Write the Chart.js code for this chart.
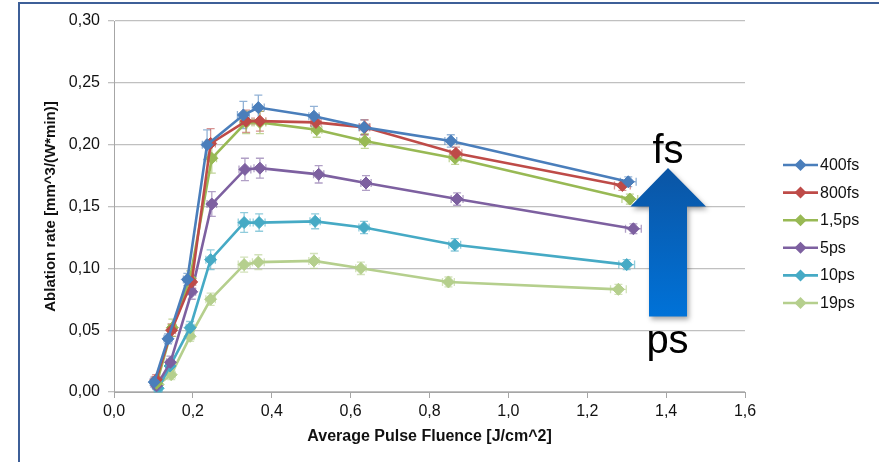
<!DOCTYPE html>
<html>
<head>
<meta charset="utf-8">
<script src="https://cdn.jsdelivr.net/npm/chart.js@4/dist/chart.umd.min.js"></script>
<style>
  html, body { margin: 0; padding: 0; background: #fff; overflow: hidden; }
  #wrap { position: relative; width: 879px; height: 462px; }
  #frame { position: absolute; left: 18px; top: 2px; width: 900px; height: 500px;
           border-left: 2px solid #3d5f98; border-top: 2px solid #3d5f98; }
  canvas { position: absolute; left: 0; top: 0; }
</style>
</head>
<body>
<div id="wrap">
  <div id="frame"></div>
  <canvas id="ablationChart" width="879" height="462"></canvas>
</div>
<script>
const seriesNames = ["400fs", "800fs", "1,5ps", "5ps", "10ps", "19ps"]
const seriesColors = ["#4a7ebb", "#be4b48", "#98b954", "#7d60a0", "#46aac5", "#b5cf8d"]

// fluence [J/cm^2] per series
const fluence400fs = [0.102, 0.137, 0.186, 0.236, 0.328, 0.366, 0.507, 0.634, 0.854, 1.304]
const fluence800fs = [0.107, 0.146, 0.197, 0.245, 0.335, 0.370, 0.512, 0.636, 0.867, 1.289]
const fluence1_5ps = [0.108, 0.148, 0.193, 0.248, 0.335, 0.370, 0.514, 0.636, 0.865, 1.308]
const fluence5ps = [0.108, 0.143, 0.197, 0.248, 0.332, 0.370, 0.519, 0.639, 0.870, 1.317]
const fluence10ps = [0.112, 0.142, 0.193, 0.245, 0.330, 0.368, 0.510, 0.634, 0.864, 1.300]
const fluence19ps = [0.112, 0.145, 0.193, 0.245, 0.330, 0.366, 0.507, 0.626, 0.848, 1.279]

// ablation rate [mm^3/(W*min)] per series
const rate400fs = [0.008, 0.043, 0.091, 0.200, 0.224, 0.230, 0.223, 0.214, 0.203, 0.170]
const rate800fs = [0.010, 0.050, 0.089, 0.201, 0.219, 0.219, 0.218, 0.214, 0.193, 0.167]
const rate1_5ps = [0.007, 0.052, 0.092, 0.189, 0.218, 0.218, 0.212, 0.203, 0.189, 0.156]
const rate5ps = [0.005, 0.024, 0.081, 0.152, 0.180, 0.181, 0.176, 0.169, 0.156, 0.132]
const rate10ps = [0.003, 0.021, 0.052, 0.107, 0.137, 0.137, 0.138, 0.133, 0.119, 0.103]
const rate19ps = [0.006, 0.014, 0.045, 0.075, 0.103, 0.105, 0.106, 0.100, 0.089, 0.083]

// error bars
const rateErr400fs = [0.004, 0.004, 0.005, 0.012, 0.011, 0.010, 0.008, 0.006, 0.005, 0.004]
const rateErr800fs = [0.004, 0.005, 0.005, 0.012, 0.009, 0.008, 0.006, 0.006, 0.005, 0.004]
const rateErr1_5ps = [0.004, 0.007, 0.006, 0.012, 0.009, 0.009, 0.006, 0.006, 0.005, 0.004]
const rateErr5ps = [0.003, 0.005, 0.006, 0.010, 0.009, 0.008, 0.007, 0.006, 0.005, 0.004]
const rateErr10ps = [0.003, 0.004, 0.005, 0.008, 0.008, 0.007, 0.006, 0.005, 0.005, 0.004]
const rateErr19ps = [0.003, 0.004, 0.004, 0.005, 0.006, 0.006, 0.006, 0.005, 0.004, 0.004]
const fluenceErr = [0.010, 0.010, 0.010, 0.012, 0.015, 0.015, 0.013, 0.013, 0.015, 0.020]

const fluences = [fluence400fs, fluence800fs, fluence1_5ps, fluence5ps, fluence10ps, fluence19ps]
const rates = [rate400fs, rate800fs, rate1_5ps, rate5ps, rate10ps, rate19ps]
const rateErrs = [rateErr400fs, rateErr800fs, rateErr1_5ps, rateErr5ps, rateErr10ps, rateErr19ps]

const comma = (v, d) => Number(v).toFixed(d).replace(".", ",")

const datasets = seriesNames.map((name, i) => ({
    label: name,
    data: fluences[i].map((x, j) => ({ x: x, y: rates[i][j] })),
    errY: rateErrs[i],
    showLine: true,
    borderColor: seriesColors[i],
    backgroundColor: seriesColors[i],
    borderWidth: 2.6,
    pointStyle: "rectRot",
    pointRadius: 6,
    pointHoverRadius: 6,
    pointBorderWidth: 1
}))

// error bars, drawn under the lines and markers
const errorBars = {
    id: "errorBars",
    beforeDatasetsDraw(chart) {
        const ctx = chart.ctx
        const xs = chart.scales.x, ys = chart.scales.y
        ctx.save()
        chart.data.datasets.forEach((ds) => {
            ctx.strokeStyle = ds.borderColor
            ctx.globalAlpha = 0.6
            ctx.lineWidth = 1.3
            ds.data.forEach((p, j) => {
                const px = xs.getPixelForValue(p.x)
                const py = ys.getPixelForValue(p.y)
                const top = ys.getPixelForValue(p.y + ds.errY[j])
                const bot = ys.getPixelForValue(p.y - ds.errY[j])
                const l = xs.getPixelForValue(p.x - fluenceErr[j])
                const r = xs.getPixelForValue(p.x + fluenceErr[j])
                ctx.beginPath()
                ctx.moveTo(px, top); ctx.lineTo(px, bot)
                ctx.moveTo(px - 4, top); ctx.lineTo(px + 4, top)
                ctx.moveTo(px - 4, bot); ctx.lineTo(px + 4, bot)
                ctx.moveTo(l, py); ctx.lineTo(r, py)
                ctx.moveTo(l, py - 4); ctx.lineTo(l, py + 4)
                ctx.moveTo(r, py - 4); ctx.lineTo(r, py + 4)
                ctx.stroke()
            })
        })
        ctx.restore()
    }
}

// legend with line + diamond, and the fs/ps arrow
const extras = {
    id: "extras",
    afterDraw(chart) {
        const ctx = chart.ctx
        ctx.save()
        chart.data.datasets.forEach((ds, i) => {
            const y = 165 + i * 27.6
            ctx.strokeStyle = ds.borderColor
            ctx.lineWidth = 2.6
            ctx.beginPath()
            ctx.moveTo(783, y); ctx.lineTo(818, y)
            ctx.stroke()
            ctx.fillStyle = ds.backgroundColor
            ctx.beginPath()
            ctx.moveTo(800.5, y - 6); ctx.lineTo(806.5, y); ctx.lineTo(800.5, y + 6); ctx.lineTo(794.5, y)
            ctx.closePath()
            ctx.fill()
            ctx.fillStyle = "#111"
            ctx.font = "16px 'Liberation Sans', Arial, sans-serif"
            ctx.textBaseline = "middle"
            ctx.textAlign = "left"
            ctx.fillText(ds.label, 820, y + 0.5)
        })

        // arrow
        const grad = ctx.createLinearGradient(0, 168, 0, 317)
        grad.addColorStop(0, "#0b55a4")
        grad.addColorStop(1, "#0072d8")
        ctx.fillStyle = grad
        ctx.shadowColor = "rgba(0,0,0,0.35)"
        ctx.shadowBlur = 5
        ctx.shadowOffsetX = 2
        ctx.shadowOffsetY = 3
        ctx.beginPath()
        ctx.moveTo(668, 168)
        ctx.lineTo(706, 206.5)
        ctx.lineTo(687, 206.5)
        ctx.lineTo(687, 316.5)
        ctx.lineTo(649, 316.5)
        ctx.lineTo(649, 206.5)
        ctx.lineTo(630.5, 206.5)
        ctx.closePath()
        ctx.fill()
        ctx.shadowColor = "transparent"

        ctx.fillStyle = "#000"
        ctx.font = "40px 'Liberation Sans', Arial, sans-serif"
        ctx.textAlign = "center"
        ctx.textBaseline = "alphabetic"
        ctx.fillText("fs", 668, 163)
        ctx.fillText("ps", 667.5, 353)
        ctx.restore()
    }
}

const config = {
    type: "scatter",
    data: { datasets: datasets },
    options: {
        responsive: false,
        animation: false,
        events: [],
        layout: {
            padding: { left: 0, top: 21, right: 134, bottom: 12 }
        },
        scales: {
            x: {
                type: "linear",
                min: 0,
                max: 1.6,
                afterFit(scale) { scale.height = 58 },
                ticks: {
                    stepSize: 0.2,
                    padding: 4,
                    color: "#111",
                    font: { family: "'Liberation Sans', Arial, sans-serif", size: 16 },
                    callback: (v) => comma(v, 1)
                },
                grid: {
                    drawOnChartArea: false,
                    drawTicks: true,
                    tickLength: 6,
                    color: "#a6a6a6",
                    lineWidth: 1
                },
                border: { display: true, color: "#a6a6a6", width: 1 },
                title: {
                    display: true,
                    text: "Average Pulse Fluence [J/cm^2]",
                    color: "#111",
                    padding: { top: 0, bottom: 3.4 },
                    font: { family: "'Liberation Sans', Arial, sans-serif", size: 16, weight: "bold" }
                }
            },
            y: {
                min: 0,
                max: 0.3,
                afterFit(scale) { scale.width = 114 },
                ticks: {
                    stepSize: 0.05,
                    padding: 8,
                    color: "#111",
                    font: { family: "'Liberation Sans', Arial, sans-serif", size: 16 },
                    callback: (v) => comma(v, 2)
                },
                grid: {
                    color: "#c0c0c0",
                    lineWidth: 1.3,
                    tickLength: 6
                },
                border: { display: true, color: "#a6a6a6", width: 1 },
                title: {
                    display: true,
                    text: "Ablation rate [mm^3/(W*min)]",
                    color: "#111",
                    padding: { top: 42, bottom: 0 },
                    font: { family: "'Liberation Sans', Arial, sans-serif", size: 15, weight: "bold" }
                }
            }
        },
        plugins: {
            legend: { display: false },
            tooltip: { enabled: false }
        }
    },
    plugins: [errorBars, extras]
}

const ablationChart = new Chart(document.getElementById("ablationChart"), config)
</script>
</body>
</html>
